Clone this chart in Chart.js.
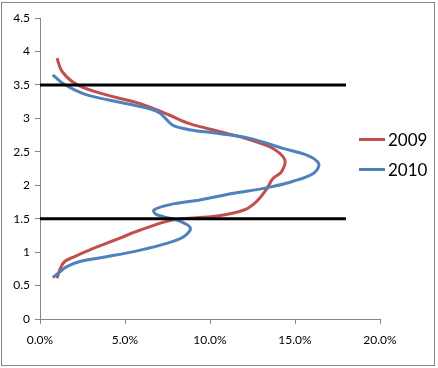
<!DOCTYPE html>
<html>
<head>
<meta charset="utf-8">
<script src="https://cdn.jsdelivr.net/npm/chart.js@4/dist/chart.umd.min.js"></script>
<style>
  html, body { margin: 0; padding: 0; background: #fff; }
  #wrap { position: relative; width: 438px; height: 368px; }
  #frame { position: absolute; left: 1px; top: 2px; width: 432px; height: 362px; border: 1px solid #868686; box-sizing: content-box; pointer-events: none; }
  canvas { position: absolute; left: 0; top: 0; }
  .lg { position: absolute; left: 359px; font: 17px Lato, sans-serif; color: #000; display: flex; align-items: center; }
  .lg span.sw { display: inline-block; width: 26px; height: 3px; margin-right: 3px; }
</style>
</head>
<body>
<div id="wrap">
  <canvas id="c" width="438" height="368"></canvas>
  <div id="frame"></div>
  <div class="lg" style="top:129px"><span class="sw" style="background:#C0504D"></span>2009</div>
  <div class="lg" style="top:159px"><span class="sw" style="background:#4F81BD"></span>2010</div>
</div>
<script>
// Series 2009 (x in %, y value)
const x2009 = [1.0, 1.3, 2.2, 3.9, 5.9, 7.6, 8.8, 10.6, 12.35, 13.7, 14.4, 14.2, 13.7, 13.3, 12.75, 12.0, 10.4, 7.8, 5.9, 4.7, 3.9, 2.9, 2.0, 1.45, 1.2, 1.0];
const y2009 = [3.9, 3.7, 3.5, 3.35, 3.22, 3.05, 2.92, 2.8, 2.68, 2.55, 2.38, 2.2, 2.1, 1.93, 1.76, 1.63, 1.54, 1.48, 1.33, 1.21, 1.13, 1.03, 0.93, 0.86, 0.76, 0.61];
// Series 2010
const x2010 = [0.75, 1.3, 2.0, 2.9, 4.9, 6.5, 7.05, 7.45, 7.85, 8.8, 10.6, 12.35, 14.3, 15.7, 16.4, 16.1, 14.9, 13.3, 11.4, 9.4, 7.65, 6.7, 6.8, 7.25, 8.25, 8.85, 8.45, 7.45, 5.9, 3.9, 2.35, 1.55, 1.0, 0.75];
const y2010 = [3.65, 3.53, 3.43, 3.34, 3.23, 3.14, 3.08, 2.98, 2.89, 2.83, 2.77, 2.7, 2.55, 2.45, 2.32, 2.18, 2.06, 1.96, 1.88, 1.78, 1.71, 1.63, 1.57, 1.53, 1.46, 1.36, 1.23, 1.13, 1.03, 0.93, 0.86, 0.78, 0.67, 0.62];
// Reference lines
const refLevels = [3.5, 1.5];
const refXRange = [0, 18];
const seriesNames = ['2009', '2010'];
// Axis ticks
const xTicks = [0, 5, 10, 15, 20];
const yTicks = [0, 0.5, 1, 1.5, 2, 2.5, 3, 3.5, 4, 4.5];

const toPts = (xs, ys) => xs.map((x, i) => ({ x: x, y: ys[i] }));

const datasets = [
  { label: seriesNames[0], data: toPts(x2009, y2009), borderColor: '#C0504D', borderWidth: 3, tension: 0.35, pointRadius: 0, showLine: true, order: 2 },
  { label: seriesNames[1], data: toPts(x2010, y2010), borderColor: '#4F81BD', borderWidth: 3, tension: 0.35, pointRadius: 0, showLine: true, order: 1 }
];
refLevels.forEach(v => datasets.push({
  label: 'ref' + v, data: refXRange.map(x => ({ x: x, y: v })),
  borderColor: '#000', borderWidth: 3, pointRadius: 0, showLine: true, tension: 0, order: 0
}));

const font = { family: 'Lato, sans-serif', size: 12 };
new Chart(document.getElementById('c'), {
  type: 'scatter',
  data: { datasets: datasets },
  options: {
    responsive: false,
    animation: false,
    layout: { padding: { left: 0, right: 58, top: 18, bottom: 0 } },
    plugins: { legend: { display: false }, tooltip: { enabled: false } },
    scales: {
      x: {
        type: 'linear', min: 0, max: 20,
        afterBuildTicks: s => { s.ticks = xTicks.map(v => ({ value: v })); },
        afterFit: s => { s.height = 49; },
        ticks: { font: font, color: '#000', padding: 9, callback: v => v.toFixed(1) + '%' },
        grid: { drawOnChartArea: false, drawTicks: true, tickLength: 5, color: '#868686' },
        border: { display: true, color: '#868686', width: 1 }
      },
      y: {
        type: 'linear', min: 0, max: 4.5,
        afterBuildTicks: s => { s.ticks = yTicks.map(v => ({ value: v })); },
        afterFit: s => { s.width = 40; },
        ticks: { font: font, color: '#000', padding: 5, callback: v => String(v) },
        grid: { drawOnChartArea: false, drawTicks: true, tickLength: 5, color: '#868686' },
        border: { display: true, color: '#868686', width: 1 }
      }
    }
  }
});
</script>
</body>
</html>
